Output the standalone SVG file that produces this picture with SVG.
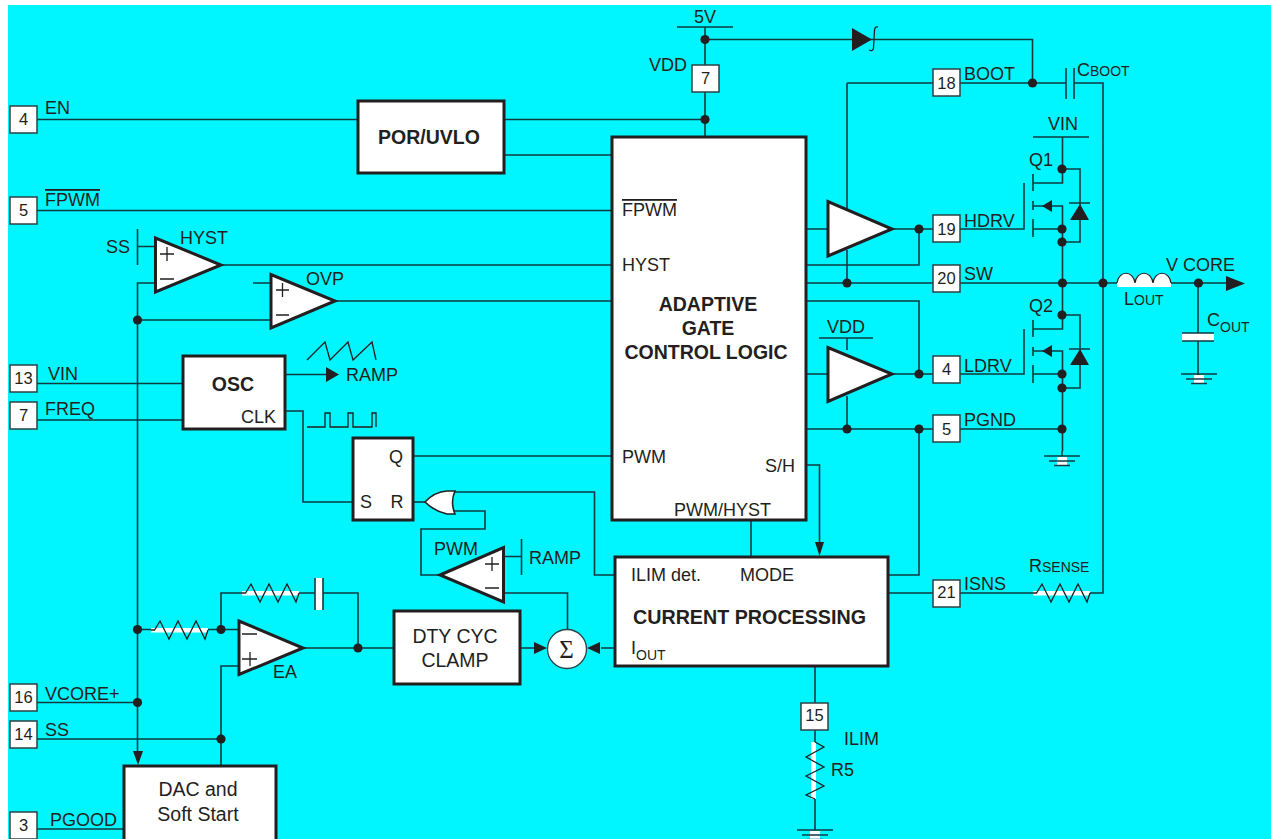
<svg xmlns="http://www.w3.org/2000/svg" width="1271" height="839" viewBox="0 0 1271 839">
<style>
text{font-family:"Liberation Sans",Arial,sans-serif;font-size:18px;fill:#231f20}
.pin{font-size:16.500px;text-anchor:middle}
.b{font-weight:bold;font-size:19.500px;text-anchor:middle}
.m{text-anchor:middle}
.l{font-size:19.500px;text-anchor:middle}
.s{font-size:14px}
.w{fill:none;stroke:#0f3a40;stroke-width:1.600}
.t{fill:none;stroke:#231f20;stroke-width:1.300}
.box{fill:#fff;stroke:#231f20;stroke-width:3}
.pb{fill:#fff;stroke:#2b4044;stroke-width:1.500}
.tri{fill:#fff;stroke:#231f20;stroke-width:3;stroke-linejoin:miter}
.k{fill:#231f20}
.wh{fill:#fff}
</style>
<defs>
<circle id="d" r="4.600" class="k"/>
<g id="gnd"><rect x="-5" y="1" width="10" height="9" class="wh"/><path class="w" d="M-18 0H18M-13 5H13M-8 9.500H8"/></g>
<g id="rz"><rect x="0" y="-2" width="57" height="4.500" class="wh"/><path class="t" d="M0 0L3.500 0L9 -9L18 9L27 -9L36 9L45 -9L54 9L57 0"/></g>
</defs>
<rect width="1271" height="839" fill="#fff"/>
<rect x="8" y="5" width="1263" height="834" fill="#00f6ff"/>

<g id="connectors">
<path class="w" d="M677 27H733M705 27V137M705 39.500H1032.500V83"/>
<path class="w" d="M37 119.500H705M504 155H612M37 210.500H612"/>
<path class="w" d="M847 83H1066M1074 83H1103V593H1090M847 83V210M847 250V283"/>
<path class="w" d="M806 229H933M919 229V265H806M806 283H1117M1171 283H1228"/>
<path class="w" d="M806 301H919V374M806 374H933M847 338V350M847 396V429M806 429H933M919 429V575H888M960 429H1062"/>
<path class="w" d="M819 338H873"/>
<path class="w" d="M137.500 229V265M137.500 246.500H155M221 265H612M155 283H137.500V752M137.500 320H271M253 283H271M335 301H612"/>
<path class="w" d="M37 383.500H183M37 420H183M285 374.500H328M285 411H303V502H353M412 456H612"/>
<path class="t" d="M307 360L325 342L330 360L348 342L353 360L372 342L376 360"/>
<path class="t" d="M307 427H325V413H330V427H348V413H353V427H372V413H376V427"/>
<path class="w" d="M412 502H426" stroke-width="2.500"/>
<path class="w" d="M452 492H594.500V575H615M452 511H485V529H421V575H440"/>
<path class="w" d="M503 556.500H521.500M521.500 539V575M503 593H567.500V630"/>
<path class="w" d="M137.500 629.500H151M208 629.500H239M221 629.500V593H242M299 593H315M323 593H358V648M303 648H394M239 666H221V766M37 702.500H137.500M37 739H221M37 829H124"/>
<path class="w" d="M520 648H536M601 648H615"/>
<path class="w" d="M751 520V557M806 465H819.500V545M888 593H933M960 593H1033M815 666V703M815 730V742M815 799V830"/>
<path class="w" d="M1198 283V333M1198 341V375"/>
<path class="w" d="M1033 137H1089M1062.500 137V183H1033M1062.500 169H1080V242H1062.500M1033 206H1062.500V283M1033 229H1062.500M960 229H1024V183M1033 174V191M1033 201V210M1033 219V237"/>
<path class="w" d="M1062.500 283V329H1033M1062.500 315H1080V388H1062.500M1033 351H1062.500V451M1033 374H1062.500M960 374H1024V329M1033 320V337M1033 347V356M1033 365V383"/>
<path class="k" d="M852 28L872 39.500L852 51ZM1226 276L1245 283.500L1226 291ZM326 367L339 374.500L326 382ZM133 751H143L138 765ZM815 542H824L819.500 556ZM534 642L547 648L534 654ZM600 642L587 648L600 654ZM1042 206L1052 200V212ZM1042 351L1052 345V357ZM1070 220H1089L1080 204ZM1070 365H1089L1080 349Z"/>
<path class="w" d="M1069 203H1090M1069 349H1090M1066 68V99M1074 68V99"/>
<path class="t" d="M878 27Q875 26 874.500 30L873.500 48Q873 52 869 50"/>
<use href="#d" x="705" y="39.500"/><use href="#d" x="705" y="119.500"/><use href="#d" x="1032.500" y="83"/>
<use href="#d" x="919" y="229"/><use href="#d" x="847" y="283"/><use href="#d" x="1062" y="169"/><use href="#d" x="1062" y="229"/><use href="#d" x="1062" y="242"/>
<use href="#d" x="1062.500" y="283"/><use href="#d" x="1103" y="283"/><use href="#d" x="1198.500" y="283"/><use href="#d" x="1062" y="315"/>
<use href="#d" x="919" y="374"/><use href="#d" x="1062" y="374"/><use href="#d" x="1062" y="388"/>
<use href="#d" x="847" y="429"/><use href="#d" x="919" y="429"/><use href="#d" x="1062" y="429"/>
<use href="#d" x="137.500" y="320"/><use href="#d" x="137.500" y="629.500"/><use href="#d" x="221" y="629.500"/><use href="#d" x="358" y="648"/><use href="#d" x="137.500" y="702.500"/><use href="#d" x="221" y="739"/>
<use href="#gnd" x="1062" y="456"/><use href="#gnd" x="1199" y="374"/><use href="#gnd" x="815" y="830"/>
<path class="t" d="M1062 451V456M1198 375V374"/>
</g>

<g id="supply"><text class="m" x="705" y="23">5V</text><text x="649" y="71">VDD</text></g>
<g id="pin-vdd"><rect class="pb" x="692" y="65" width="27" height="27"/><text class="pin" x="705.500" y="84">7</text></g>
<g id="pin-en"><rect class="pb" x="10" y="106" width="27" height="27"/><text class="pin" x="23.500" y="125">4</text><text x="45" y="114">EN</text></g>
<g id="pin-fpwm"><rect class="pb" x="10" y="197" width="27" height="27"/><text class="pin" x="23.500" y="216">5</text><text x="45" y="206" text-decoration="overline">FPWM</text></g>
<g id="pin-vin"><rect class="pb" x="10" y="365" width="27" height="27"/><text class="pin" x="23.500" y="384">13</text><text x="48" y="380">VIN</text></g>
<g id="pin-freq"><rect class="pb" x="10" y="402" width="27" height="27"/><text class="pin" x="23.500" y="421">7</text><text x="45" y="415">FREQ</text></g>
<g id="pin-vcore"><rect class="pb" x="10" y="684" width="27" height="27"/><text class="pin" x="23.500" y="703">16</text><text x="45" y="700">VCORE+</text></g>
<g id="pin-ss"><rect class="pb" x="10" y="721" width="27" height="27"/><text class="pin" x="23.500" y="740">14</text><text x="45" y="736">SS</text></g>
<g id="pin-pgood"><rect class="pb" x="10" y="812" width="27" height="27"/><text class="pin" x="23.500" y="831">3</text><text x="50" y="826">PGOOD</text></g>
<g id="pin-boot"><rect class="pb" x="933" y="69" width="27" height="27"/><text class="pin" x="946.500" y="89">18</text><text x="964" y="80">BOOT</text></g>
<g id="pin-hdrv"><rect class="pb" x="933" y="215" width="27" height="27"/><text class="pin" x="946.500" y="235">19</text><text x="964" y="226.500">HDRV</text></g>
<g id="pin-sw"><rect class="pb" x="933" y="265" width="27" height="27"/><text class="pin" x="946.500" y="284">20</text><text x="964" y="280">SW</text></g>
<g id="pin-ldrv"><rect class="pb" x="933" y="356" width="27" height="27"/><text class="pin" x="946.500" y="375">4</text><text x="964" y="372">LDRV</text></g>
<g id="pin-pgnd"><rect class="pb" x="933" y="415" width="27" height="27"/><text class="pin" x="946.500" y="435">5</text><text x="964" y="426">PGND</text></g>
<g id="pin-isns"><rect class="pb" x="933" y="580" width="27" height="27"/><text class="pin" x="946.500" y="598">21</text><text x="964" y="590">ISNS</text></g>
<g id="pin-ilim"><rect class="pb" x="801" y="703" width="27" height="27"/><text class="pin" x="814.500" y="721">15</text><text x="844" y="745">ILIM</text></g>

<g id="por-uvlo"><rect class="box" x="358" y="101" width="146" height="72"/><text class="b" x="429" y="144">POR/UVLO</text></g>
<g id="logic"><rect class="box" x="612" y="137" width="194" height="383"/>
<text x="622" y="216" text-decoration="overline">FPWM</text><text x="622" y="271">HYST</text><text x="622" y="463">PWM</text><text x="765" y="472">S/H</text><text x="674" y="516">PWM/HYST</text>
<text class="b" x="708" y="311">ADAPTIVE</text><text class="b" x="708" y="335">GATE</text><text class="b" x="706" y="359">CONTROL LOGIC</text></g>
<g id="driver-high"><path class="tri" d="M828 201.500V256L892 229Z"/></g>
<g id="driver-low"><path class="tri" d="M828 347.500V401.500L892 374Z"/><text class="m" x="846" y="333">VDD</text></g>
<g id="comp-hyst"><path class="tri" d="M155.500 238V292L221 265Z"/><path class="t" d="M160 254H174M167 247V261M160 279H174"/><text x="106" y="253">SS</text><text x="180" y="244">HYST</text></g>
<g id="comp-ovp"><path class="tri" d="M271 274.500V328L335 301Z"/><path class="t" d="M276 290H289M282.500 283V297M276 315H289"/><text x="306" y="285">OVP</text></g>
<g id="osc"><rect class="box" x="183" y="356" width="102" height="73"/><text class="b" x="233" y="391">OSC</text><text x="241" y="423">CLK</text><text x="346" y="381">RAMP</text></g>
<g id="flipflop"><rect class="box" x="353" y="438" width="60" height="82"/><text class="m" x="396" y="463">Q</text><text class="m" x="366" y="508">S</text><text class="m" x="397" y="508">R</text></g>
<g id="or-gate"><path d="M455 491H447Q434 492 425 502Q434 511 447 514H455Q450 502 455 491Z" fill="#fff" stroke="#231f20" stroke-width="1.600"/></g>
<g id="comp-pwm"><path class="tri" d="M440 575L503.500 547.500V602Z"/><path class="t" d="M485 564H499M492 557V571M485 588H499"/><text x="434" y="555">PWM</text><text x="529" y="564">RAMP</text></g>
<g id="clamp"><rect class="box" x="394" y="611" width="126" height="73"/><text class="l" x="455" y="643">DTY CYC</text><text class="l" x="455" y="667">CLAMP</text></g>
<g id="sum"><circle cx="567" cy="649" r="19.500" fill="#fff" stroke="#2b4044" stroke-width="1.300"/><text class="m" x="566.500" y="658" style="font-family:'Liberation Serif',serif;font-size:25px">Σ</text></g>
<g id="current"><rect class="box" x="615" y="557" width="273" height="109"/><text x="631" y="581">ILIM det.</text><text x="740" y="581">MODE</text><text x="633" y="624" style="font-weight:bold;font-size:19.700px">CURRENT PROCESSING</text><text x="631" y="654">I</text><text class="s" x="636" y="660">OUT</text></g>
<g id="comp-ea"><path class="tri" d="M239 621V674.500L303 648Z"/><path class="t" d="M242 634H257M250 652V666M242 659H257"/><text x="273" y="678">EA</text></g>
<g id="r-in"><use href="#rz" x="151" y="630"/></g>
<g id="r-fb"><use href="#rz" x="242" y="593"/></g>
<g id="c-fb"><rect x="315" y="578" width="8" height="32" class="wh"/><path class="w" d="M315 578V610M323 578V610"/></g>
<g id="dac"><rect class="box" x="124" y="766" width="152" height="80"/><text class="l" x="198" y="796">DAC and</text><text class="l" x="198" y="821">Soft Start</text></g>
<g id="r-sense"><use href="#rz" x="1033" y="593"/><text x="1029" y="572">R<tspan class="s">SENSE</tspan></text></g>
<g id="r5"><rect x="811" y="742" width="5" height="57" class="wh"/><path class="t" d="M815 742L824 747L806 757L824 767L806 776L824 786L806 795L815 799"/><text x="831" y="776">R5</text></g>
<g id="cboot"><text x="1077" y="76">C<tspan class="s">BOOT</tspan></text></g>
<g id="q1"><text x="1029" y="166">Q1</text><text class="m" x="1063" y="130">VIN</text></g>
<g id="q2"><text x="1029" y="312">Q2</text></g>
<g id="inductor"><path d="M1117 287V283C1119 270 1133 270 1135 283C1137 270 1151 270 1153 283C1155 270 1169 270 1171 283V287Z" fill="#fff"/><path d="M1117 283C1119 270 1133 270 1135 283C1137 270 1151 270 1153 283C1155 270 1169 270 1171 283" fill="none" stroke="#231f20" stroke-width="1.200"/><text x="1124" y="305">L<tspan class="s">OUT</tspan></text><text x="1166" y="271">V CORE</text></g>
<g id="cout"><rect x="1182" y="333" width="32" height="8" class="wh"/><path class="w" d="M1182 333H1214M1182 341H1214"/><text x="1207" y="326">C<tspan class="s" dy="6">OUT</tspan></text></g>
</svg>
